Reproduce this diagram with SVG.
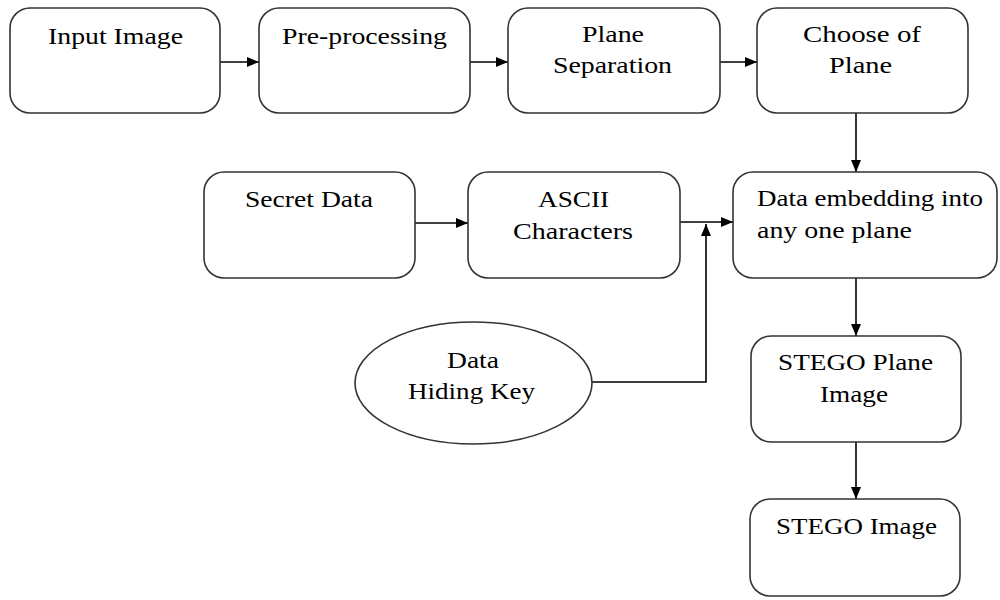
<svg xmlns="http://www.w3.org/2000/svg" width="1000" height="600" viewBox="0 0 1000 600">
<defs>
<marker id="arr" viewBox="0 0 12 10" markerUnits="userSpaceOnUse" markerWidth="12" markerHeight="10" refX="12" refY="5" orient="auto">
<path d="M0,0 L12,5 L0,10 z" fill="#000"/>
</marker>
<style>
.box{fill:#fff;stroke:#333;stroke-width:1.6}
.t{font-family:"Liberation Serif","Times New Roman",serif;font-size:24px;fill:#000;text-anchor:middle}
.l{text-anchor:start}
.c{fill:none;stroke:#000;stroke-width:1.6}
</style>
</defs>
<rect width="1000" height="600" fill="#fff"/>
<g id="connectors">
<line class="c" x1="220" y1="62" x2="259" y2="62" marker-end="url(#arr)"/>
<line class="c" x1="470" y1="62" x2="508" y2="62" marker-end="url(#arr)"/>
<line class="c" x1="720" y1="62" x2="757" y2="62" marker-end="url(#arr)"/>
<line class="c" x1="856" y1="113" x2="856" y2="172" marker-end="url(#arr)"/>
<line class="c" x1="415" y1="223" x2="468" y2="223" marker-end="url(#arr)"/>
<line class="c" x1="680" y1="222" x2="733" y2="222" marker-end="url(#arr)"/>
<polyline class="c" points="592,382 706,382 706,224" marker-end="url(#arr)"/>
<line class="c" x1="856" y1="278" x2="856" y2="336" marker-end="url(#arr)"/>
<line class="c" x1="856" y1="442" x2="856" y2="499" marker-end="url(#arr)"/>
</g>
<g id="input-image">
<rect class="box" x="10" y="8" width="210" height="105" rx="20"/>
<text class="t" x="115.5" y="44" textLength="135" lengthAdjust="spacingAndGlyphs">Input Image</text>
</g>
<g id="pre-processing">
<rect class="box" x="259" y="8" width="211" height="105" rx="20"/>
<text class="t" x="364.5" y="44" textLength="165" lengthAdjust="spacingAndGlyphs">Pre-processing</text>
</g>
<g id="plane-separation">
<rect class="box" x="508" y="8" width="212" height="105" rx="20"/>
<text class="t" x="613" y="42" textLength="62" lengthAdjust="spacingAndGlyphs">Plane</text>
<text class="t" x="612.5" y="73" textLength="119" lengthAdjust="spacingAndGlyphs">Separation</text>
</g>
<g id="choose-of-plane">
<rect class="box" x="757" y="8" width="211" height="105" rx="20"/>
<text class="t" x="862" y="42" textLength="118" lengthAdjust="spacingAndGlyphs">Choose of</text>
<text class="t" x="860.5" y="73" textLength="63" lengthAdjust="spacingAndGlyphs">Plane</text>
</g>
<g id="secret-data">
<rect class="box" x="204" y="172" width="211" height="106" rx="20"/>
<text class="t" x="309" y="207" textLength="128" lengthAdjust="spacingAndGlyphs">Secret Data</text>
</g>
<g id="ascii-characters">
<rect class="box" x="468" y="172" width="212" height="106" rx="20"/>
<text class="t" x="573.5" y="207" textLength="71" lengthAdjust="spacingAndGlyphs">ASCII</text>
<text class="t" x="573" y="239" textLength="120" lengthAdjust="spacingAndGlyphs">Characters</text>
</g>
<g id="data-embedding">
<rect class="box" x="733" y="172" width="264" height="106" rx="20"/>
<text class="t l" x="757" y="206" textLength="226" lengthAdjust="spacingAndGlyphs">Data embedding into</text>
<text class="t l" x="757" y="238" textLength="155" lengthAdjust="spacingAndGlyphs">any one plane</text>
</g>
<g id="data-hiding-key">
<ellipse class="box" cx="473.5" cy="383" rx="118.5" ry="61"/>
<text class="t" x="473" y="368" textLength="52" lengthAdjust="spacingAndGlyphs">Data</text>
<text class="t" x="471.5" y="399" textLength="127" lengthAdjust="spacingAndGlyphs">Hiding Key</text>
</g>
<g id="stego-plane-image">
<rect class="box" x="751" y="336" width="210" height="106" rx="20"/>
<text class="t" x="855.5" y="370" textLength="155" lengthAdjust="spacingAndGlyphs">STEGO Plane</text>
<text class="t" x="854" y="402" textLength="68" lengthAdjust="spacingAndGlyphs">Image</text>
</g>
<g id="stego-image">
<rect class="box" x="750" y="499" width="210" height="97" rx="20"/>
<text class="t" x="856.5" y="534" textLength="161" lengthAdjust="spacingAndGlyphs">STEGO Image</text>
</g>
</svg>
